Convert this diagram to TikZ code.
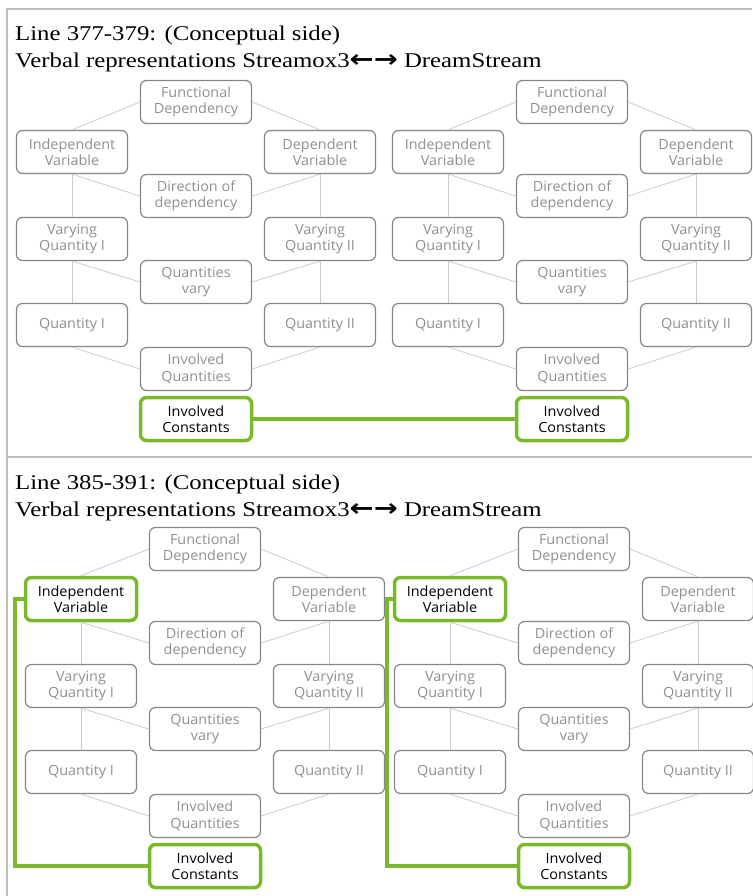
\documentclass[tikz,border=0pt]{standalone}
\usepackage{fontspec}
\setmainfont{Liberation Serif}[FakeStretch=1.18]
\newfontfamily\boxfont{Open Sans}[FakeStretch=1.03]
\newfontfamily\arrowfont{DejaVu Sans}[FakeStretch=1.2]
\definecolor{boxgray}{HTML}{858585}
\definecolor{txtgray}{HTML}{8F8F8F}
\definecolor{linkgray}{HTML}{CACACA}
\definecolor{hlgreen}{HTML}{7AB929}
\definecolor{framegray}{HTML}{BDBDBD}
\begin{document}
\begin{tikzpicture}[x=1pt,y=-1pt,
	box/.style={draw=boxgray,line width=1.2pt,rounded corners=6pt,text=txtgray,minimum width=111pt,minimum height=43pt,align=center,inner sep=2pt,font=\fontsize{14}{16.5}\selectfont\boxfont},
	hibox/.style={box,draw=hlgreen,line width=3.5pt,text=black},
	link/.style={draw=linkgray,line width=.8pt},
	hiline/.style={draw=hlgreen,line width=3.5pt},
	frame/.style={draw=framegray,line width=1.6pt},
	title/.style={anchor=base west,inner sep=0pt,font=\fontsize{21}{25}\selectfont}]
	\useasboundingbox(0,0)rectangle(752,896);
	\draw[frame](7,896)--(7,9)--(752,9);
	\draw[frame](7,457)--(752,457);
	\foreach\dy/\nr in{0/377-379,448/385-391}{
		\node[title](L1\dy)at(15,41+\dy){Line \nr: (Conceptual side)};
		\node[title](L2\dy)at(15,68+\dy){Verbal representations Streamox3{\arrowfont\bfseries\fontsize{24}{25}\selectfont←→} DreamStream};
	}
	%one diagram per cell half, IV green in the lower row
	\foreach\p/\cx/\cy/\iv in{a/196/102/box,b/572/102/box,c/205/549/hibox,d/574/549/hibox}{
		\begin{scope}[shift={(\cx,\cy)},name prefix=\p-]
		\node[box](FD)at(0,0){Functional\\Dependency};
		\node[\iv](IV)at(-124,50){Independent\\Variable};
		\node[box](DV)at(124,50){Dependent\\Variable};
		\node[box](DD)at(0,94){Direction of\\dependency};
		\node[box](VQ1)at(-124,137){Varying\\Quantity I};
		\node[box](VQ2)at(124,137){Varying\\Quantity II};
		\node[box](QV)at(0,180){Quantities\\vary};
		\node[box](Q1)at(-124,223){Quantity I};
		\node[box](Q2)at(124,223){Quantity II};
		\node[box](IQ)at(0,267){Involved\\Quantities};
		\node[hibox](IC)at(0,317){Involved\\Constants};
		\foreach\s/\e in{FD.west/IV.north,FD.east/DV.north,IV.south/DD.west,DV.south/DD.east,IV.south/VQ1.north,DV.south/VQ2.north,VQ1.south/QV.west,VQ2.south/QV.east,VQ1.south/Q1.north,VQ2.south/Q2.north,Q1.south/IQ.west,Q2.south/IQ.east}{\draw[link](\s)--(\e);}
		\end{scope}
	}
	\draw[hiline](a-IC.east)--(b-IC.west);
	\foreach\p/\d in{c/9,d/6}{\draw[hiline](\p-IV.west)--++(-\d,0)|-(\p-IC.west);}
\end{tikzpicture}
\end{document}
